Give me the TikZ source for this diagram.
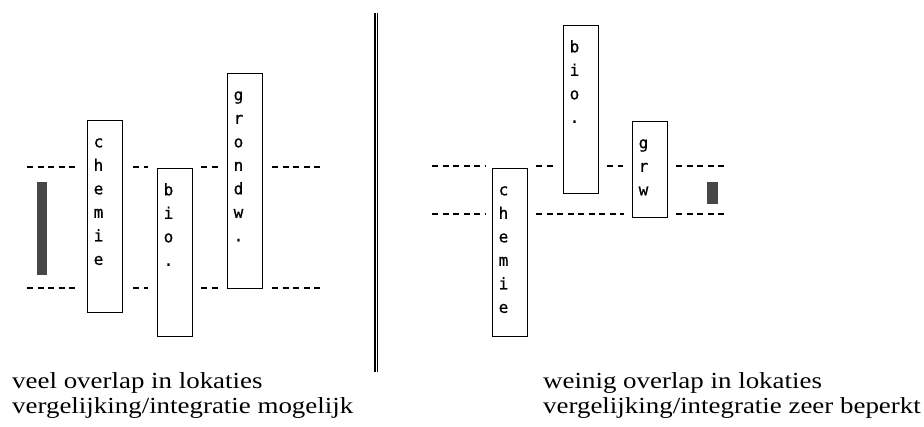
\documentclass[tikz,border=0pt]{standalone}
\usepackage{fontspec}
\setmainfont{Liberation Serif}
\newfontfamily\capfont[FakeStretch=1.17]{Liberation Serif}
\newfontfamily\boxfont[FakeBold=0.8]{DejaVu Sans Mono}
\newcommand\colbox[5]{%
  \node[colbox, minimum height={#4-#3}] (#1) at (#2,#3) {};
  \foreach \l [count=\i] in {#5}
    \node[letter] (#1-\i) at ({#2+11.5},{#3+25+23.5*(\i-1)}) {\l};
}
\begin{document}
\begin{tikzpicture}[x=1pt,y=-1pt,
  colbox/.style={draw, line width=1.4pt, minimum width=35pt, anchor=north west, inner sep=0pt},
  letter/.style={font=\boxfont\fontsize{16}{16}\selectfont, anchor=mid, inner sep=0pt},
  guide/.style={line width=1.5pt, dash pattern=on 6pt off 4.5pt},
  band/.style={fill=black!72, draw=none},
  caption/.style={font=\capfont\fontsize{23}{23}\selectfont, anchor=base west, inner sep=0pt}]
\useasboundingbox (0,0) rectangle (924,427);

% ---------- left panel ----------
\colbox{chemL}{87}{120}{312}{c,h,e,m,i,e}
\colbox{bioL}{157}{168}{336}{b,i,o,{.}}
\colbox{grondL}{227}{73}{288}{g,r,o,n,d,w,{.}}

\coordinate (Lt) at (0,167);
\coordinate (Lb) at (0,288);
\coordinate (LtA) at (27,167);
\coordinate (LtZ) at (322,167);
\coordinate (LbA) at (27,288);
\coordinate (LbZ) at (322,288);
\foreach \r/\a/\z in {Lt/LtA/LtZ, Lb/LbA/LbZ}{
  \draw[guide] (\a) -- ([xshift=-9pt]chemL.west |- \r);
  \draw[guide] ([xshift=10pt]chemL.east |- \r) -- ([xshift=-9pt]bioL.west |- \r);
  \draw[guide] ([xshift=8pt]bioL.east |- \r) -- ([xshift=-9pt]grondL.west |- \r);
  \draw[guide] ([xshift=9pt]grondL.east |- \r) -- (\z);
}
\fill[band] (37,182) rectangle (47,275);

% ---------- divider ----------
\coordinate (divT) at (376,13);
\coordinate (divB) at (376,372);
\draw[double, line width=1.3pt, double distance=0.6pt] (divT) -- (divB);

% ---------- right panel ----------
\colbox{chemR}{492}{168}{336}{c,h,e,m,i,e}
\colbox{bioR}{563}{25}{193}{b,i,o,{.}}
\colbox{grwR}{632}{121}{217}{g,r,w}

\coordinate (Rt) at (0,166);
\coordinate (Rb) at (0,214);
\coordinate (RtA) at (432,166);
\coordinate (RtZ) at (726,166);
\coordinate (RbA) at (432,214);
\coordinate (RbZ) at (726,214);
\draw[guide] (RtA) -- ([xshift=-7pt]chemR.west |- Rt);
\draw[guide] ([xshift=8pt]chemR.east |- Rt) -- ([xshift=-10pt]bioR.west |- Rt);
\draw[guide] ([xshift=8pt]bioR.east |- Rt) -- ([xshift=-9pt]grwR.west |- Rt);
\draw[guide] ([xshift=8pt]grwR.east |- Rt) -- (RtZ);
\draw[guide] (RbA) -- ([xshift=-7pt]chemR.west |- Rb);
\draw[guide] ([xshift=8pt]chemR.east |- Rb) -- ([xshift=-8pt]grwR.west |- Rb);
\draw[guide] ([xshift=8pt]grwR.east |- Rb) -- (RbZ);
\fill[band] (707,182) rectangle (718,204);

% ---------- captions ----------
\node[caption] (capL1) at (12,389) {veel overlap in lokaties};
\node[caption] (capL2) at (12,414) {vergelijking/integratie mogelijk};
\node[caption] (capR1) at (543,389) {weinig overlap in lokaties};
\node[caption] (capR2) at (543,414) {vergelijking/integratie zeer beperkt};
\end{tikzpicture}
\end{document}
